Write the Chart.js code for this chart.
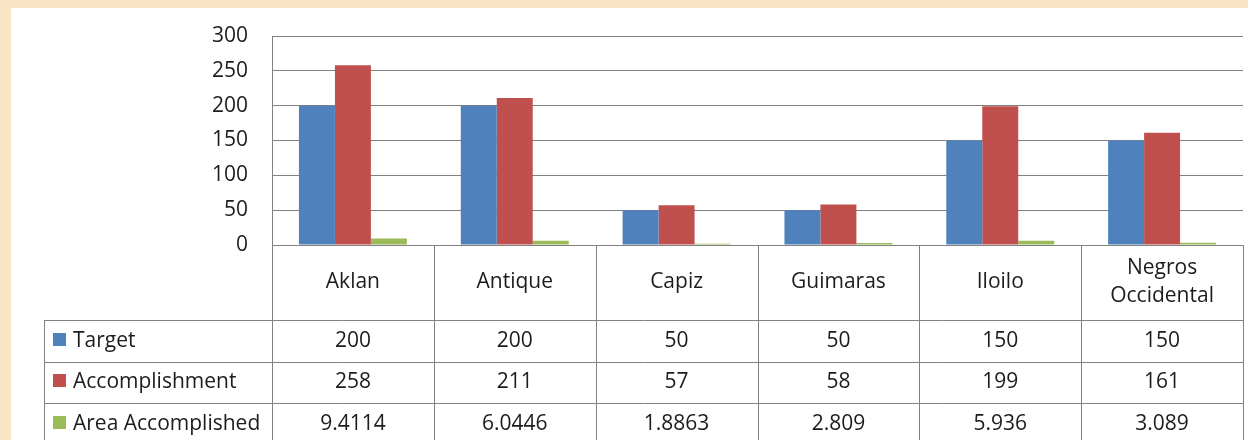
<!DOCTYPE html>
<html>
<head>
<meta charset="utf-8">
<script src="https://cdn.jsdelivr.net/npm/chart.js@4.4.0/dist/chart.umd.min.js"></script>
<style>
  html, body { margin: 0; padding: 0; }
  body { width: 1248px; height: 440px; background: #f9e5c5; overflow: hidden; position: relative; }
  #wrap { position: absolute; left: 11px; top: 8px; width: 1237px; height: 432px; background: #fff; }
</style>
</head>
<body>
<div id="wrap"><canvas id="prodChart" width="1237" height="432"></canvas></div>
<script>
var categories = ['Aklan', 'Antique', 'Capiz', 'Guimaras', 'Iloilo', ['Negros', 'Occidental']];
var seriesNames = ['Target', 'Accomplishment', 'Area Accomplished'];
var target = [200, 200, 50, 50, 150, 150];
var accomplishment = [258, 211, 57, 58, 199, 161];
var areaAccomplished = [9.4114, 6.0446, 1.8863, 2.809, 5.936, 3.089];
var seriesColors = ['#4f81bd', '#c0504d', '#9bbb59'];
var yMin = 0, yMax = 300, yStep = 50;

var FONT = '"Open Sans", "Noto Sans", sans-serif';
var TEXT = '#1c1c1c';
var LINE = '#808080';

// draws the excel style data table under the plot, lined up with the x scale
var dataTable = {
    id: 'dataTable',
    afterDraw: function (chart) {
        var ctx = chart.ctx;
        var area = chart.chartArea;
        var xs = chart.scales.x;
        var half = (area.right - area.left) / categories.length / 2;
        var headH = 75, rowH = 41.5;
        var top = area.bottom;
        var bottom = top + headH + rowH * 3;
        var legendLeft = 33;
        var rows = [target, accomplishment, areaAccomplished];

        function line(x1, y1, x2, y2) {
            ctx.beginPath();
            ctx.moveTo(x1, y1);
            ctx.lineTo(x2, y2);
            ctx.stroke();
        }

        ctx.save();
        ctx.strokeStyle = LINE;
        ctx.lineWidth = 1;
        for (var r = 0; r <= 3; r++) {
            var y = Math.round(top + headH + r * rowH) + 0.5;
            line(legendLeft, y, area.right, y);
        }
        for (var i = 0; i <= categories.length; i++) {
            var xx = Math.round(xs.getPixelForValue(0) - half + i * half * 2) + 0.5;
            line(xx, top, xx, bottom);
        }
        line(legendLeft + 0.5, top + headH, legendLeft + 0.5, bottom);

        ctx.fillStyle = TEXT;
        ctx.font = '21px ' + FONT;
        ctx.textAlign = 'center';
        ctx.textBaseline = 'middle';

        // category header
        categories.forEach(function (c, i) {
            var cx = xs.getPixelForValue(i);
            var cy = top + headH / 2;
            if (Array.isArray(c)) {
                var lh = 28;
                c.forEach(function (t, k) {
                    ctx.fillText(t, cx, cy - (c.length - 1) * lh / 2 + k * lh);
                });
            } else {
                ctx.fillText(c, cx, cy);
            }
        });

        // values + legend keys
        rows.forEach(function (vals, r) {
            var cy = top + headH + r * rowH + rowH / 2;
            ctx.textAlign = 'center';
            ctx.fillStyle = TEXT;
            vals.forEach(function (v, i) {
                ctx.fillText(String(v), xs.getPixelForValue(i), cy);
            });
            ctx.fillStyle = seriesColors[r];
            ctx.fillRect(42, Math.round(cy - 8), 13, 13);
            ctx.fillStyle = TEXT;
            ctx.textAlign = 'left';
            ctx.fillText(seriesNames[r], 62, cy);
        });
        ctx.restore();
    }
};

var ctx = document.getElementById('prodChart').getContext('2d');
var chart = new Chart(ctx, {
    type: 'bar',
    data: {
        labels: categories,
        datasets: [
            { label: seriesNames[0], data: target, backgroundColor: seriesColors[0] },
            { label: seriesNames[1], data: accomplishment, backgroundColor: seriesColors[1] },
            { label: seriesNames[2], data: areaAccomplished, backgroundColor: seriesColors[2] }
        ]
    },
    options: {
        responsive: false,
        animation: false,
        categoryPercentage: 0.667,
        barPercentage: 1.0,
        layout: { padding: { top: 28, right: 5, bottom: 195, left: 0 } },
        plugins: {
            legend: { display: false },
            tooltip: { enabled: false }
        },
        scales: {
            x: { display: false, offset: true },
            y: {
                min: yMin,
                max: yMax,
                afterFit: function (scale) {
                    scale.width = 261;
                    scale.paddingTop = 0;
                    scale.paddingBottom = 0;
                },
                ticks: {
                    stepSize: yStep,
                    padding: 24,
                    color: TEXT,
                    font: { family: FONT, size: 21 }
                },
                grid: { color: LINE, lineWidth: 1, drawTicks: false },
                border: { display: true, color: LINE, width: 1 }
            }
        }
    },
    plugins: [dataTable]
});
</script>
</body>
</html>
